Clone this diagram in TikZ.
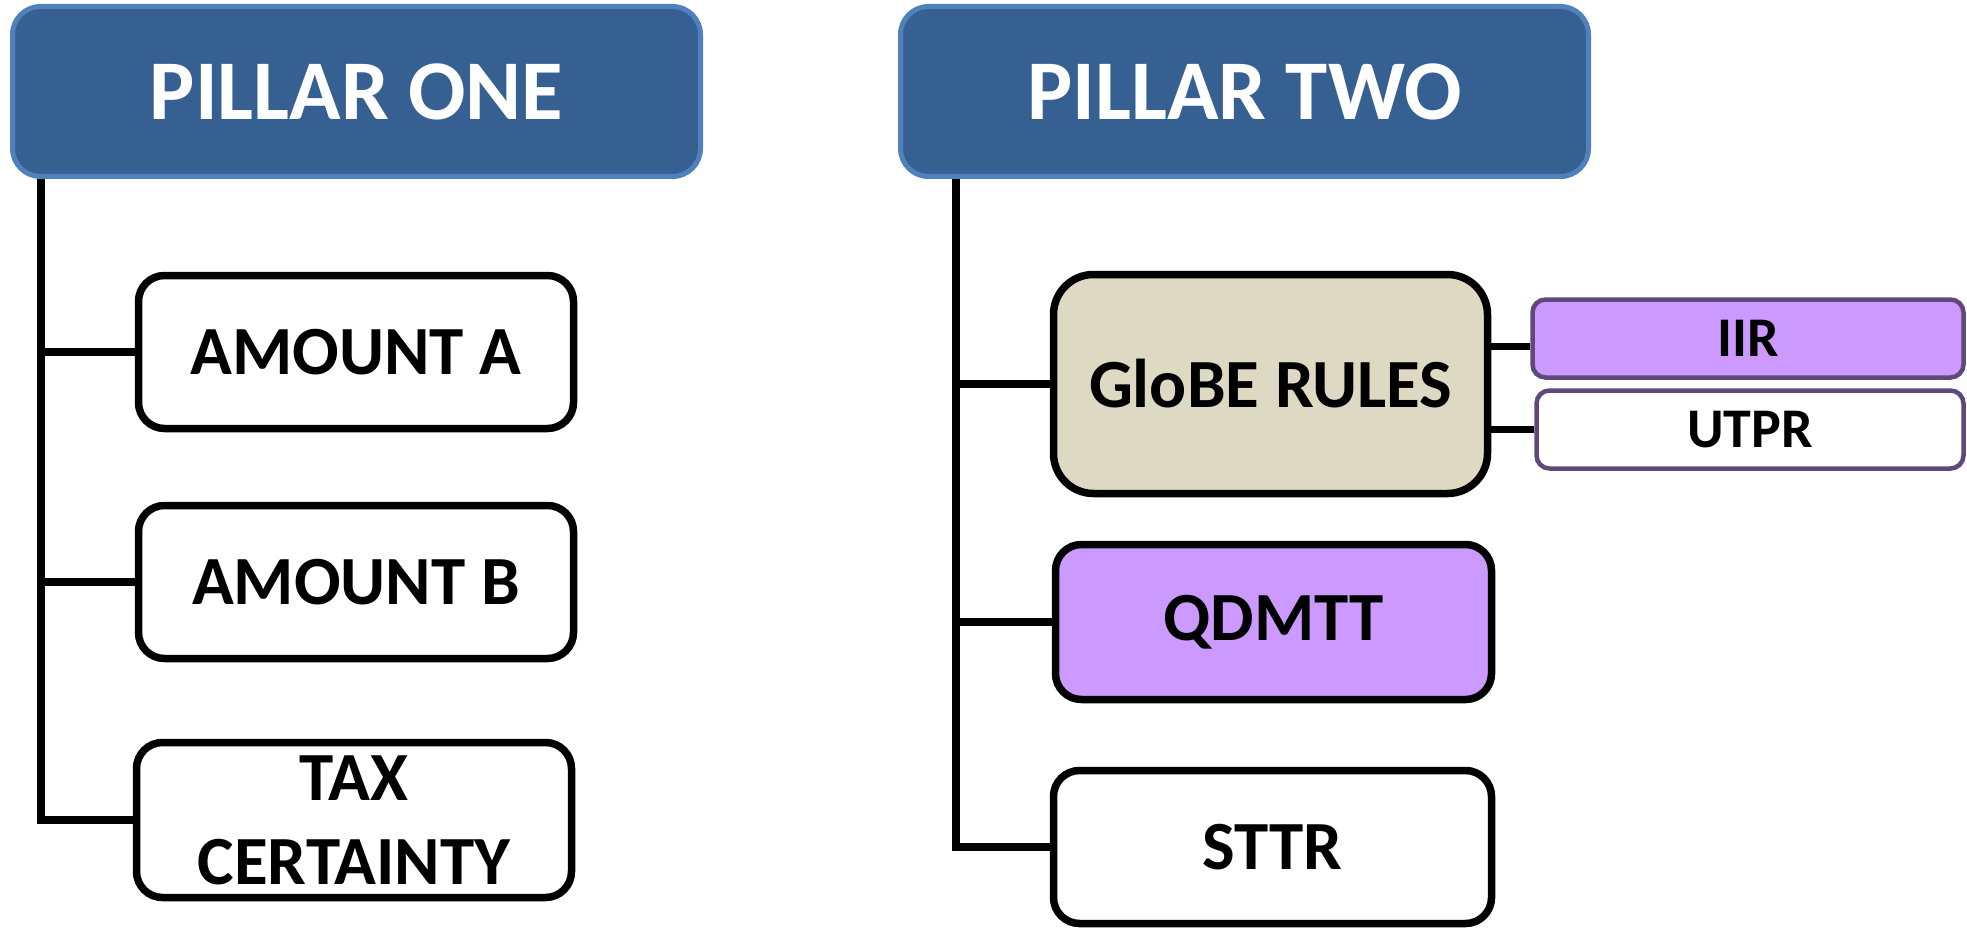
\documentclass[tikz,border=0pt]{standalone}
\usepackage{fontspec}
\setmainfont{Carlito}
\usetikzlibrary{backgrounds}
\definecolor{pillarfill}{HTML}{376092}
\definecolor{pillaredge}{HTML}{4F81BD}
\definecolor{globefill}{HTML}{DDD9C3}
\definecolor{lilac}{HTML}{CC99FF}
\definecolor{plumedge}{HTML}{5F497A}

\begin{document}
\begin{tikzpicture}[x=1pt,y=-1pt,
  pillar/.style={rectangle, rounded corners=28pt, fill=pillarfill, draw=pillaredge,
    line width=5pt, text=white, font=\fontsize{85}{100}\selectfont\bfseries,
    minimum width=688pt, minimum height=170pt, inner sep=0pt},
  item/.style={rectangle, rounded corners=26pt, draw=black, line width=7.5pt,
    fill=white, font=\fontsize{69}{84}\selectfont\bfseries, align=center,
    inner sep=0pt},
  sub/.style={rectangle, rounded corners=13pt, draw=plumedge, line width=4.5pt,
    font=\fontsize{56}{60}\selectfont\bfseries, inner sep=0pt,
    minimum height=78pt},
  link/.style={line width=7.5pt, draw=black}
]
\useasboundingbox (0,0) rectangle (1967,928);
\clip (0,0) rectangle (1967,928);

% headers
\node[pillar] (p1) at (356.5,91.5) {PILLAR ONE};
\node[pillar] (p2) at (1244.5,91.5) {PILLAR TWO};

% pillar one branches
\node[item, minimum width=435pt, minimum height=153pt] (amtA) at (356,352) {AMOUNT A};
\node[item, minimum width=435pt, minimum height=153pt] (amtB) at (356,582) {AMOUNT B};
\node[item, minimum width=435pt, minimum height=155pt] (taxc) at (354,820) {TAX\\CERTAINTY};

% pillar two branches
\node[item, fill=globefill, rounded corners=40pt, minimum width=434pt,
      minimum height=219pt] (globe) at (1270.5,384) {GloBE RULES};
\node[item, fill=lilac, minimum width=436pt, minimum height=155pt] (qdmtt) at (1273.5,622) {QDMTT};
\node[item, minimum width=438pt, minimum height=153pt] (sttr) at (1272.5,847) {STTR};

% GloBE sub-rules
\node[sub, fill=lilac, minimum width=431pt] (iir) at (1748,338.5) {IIR};
\node[sub, fill=white, minimum width=427pt] (utpr) at (1750,429.5) {UTPR};

% trunk positions
\coordinate (lx) at (41,0);
\coordinate (rx) at (956,0);

\begin{scope}[on background layer]
  \draw[link] (p1.south -| lx) -- (taxc.west -| lx) -- (taxc.west);
  \draw[link] (amtA.west -| lx) -- (amtA.west);
  \draw[link] (amtB.west -| lx) -- (amtB.west);
  \draw[link] (p2.south -| rx) -- (sttr.west -| rx) -- (sttr.west);
  \draw[link] (globe.west -| rx) -- (globe.west);
  \draw[link] (qdmtt.west -| rx) -- (qdmtt.west);
  \draw[link] ([yshift=-8pt]iir.west) -- ([yshift=-8pt]iir.west -| globe.east);
  \draw[link] (utpr.west) -- (utpr.west -| globe.east);
\end{scope}
\end{tikzpicture}
\end{document}
